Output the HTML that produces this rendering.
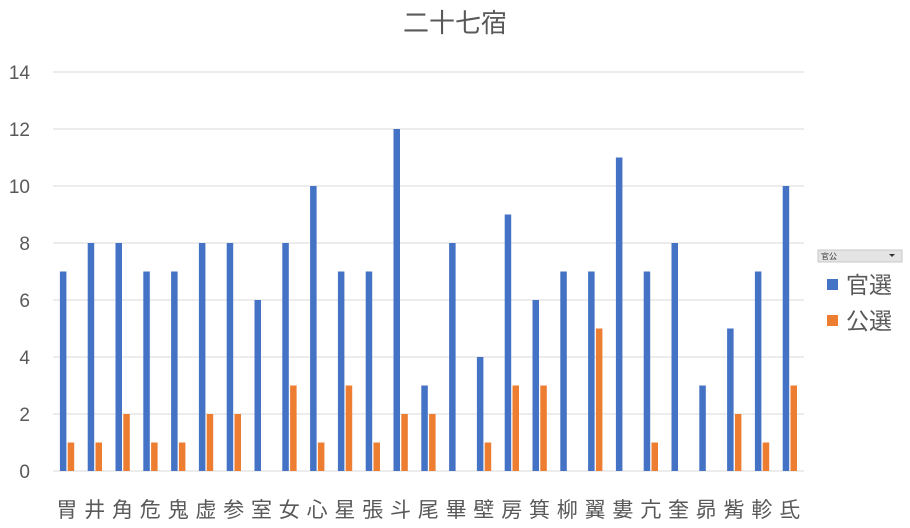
<!DOCTYPE html>
<html><head><meta charset="utf-8"><style>body{margin:0;background:#fff}svg{display:block}text{font-family:"Liberation Sans","Noto Sans CJK JP",sans-serif}</style></head><body>
<svg width="910" height="528" xmlns="http://www.w3.org/2000/svg" id="s">
<rect width="910" height="528" fill="#fff"/>
<text x="455" y="32" font-size="26" fill="#595959" text-anchor="middle">二十七宿</text>
<g id="grid" stroke="#d9d9d9" stroke-width="1"></g>
<g id="ylab" font-size="19" fill="#595959" text-anchor="end"></g>
<g id="bars"></g>
<g id="xlab" font-size="21" fill="#595959" text-anchor="middle"></g>
<rect x="818" y="250" width="84" height="12" fill="#e4e4e4" stroke="#c8c8c8"/>
<text x="821" y="259" font-size="8" fill="#333">官公</text>
<path d="M889 254 l6 0 l-3 3z" fill="#333"/>
<rect x="827" y="279" width="11" height="11" fill="#4472c4"/>
<text x="846" y="293" font-size="23" fill="#595959">官選</text>
<rect x="827" y="315" width="11" height="11" fill="#ed7d31"/>
<text x="846" y="329" font-size="23" fill="#595959">公選</text>
</svg>
<script>
const ns="http://www.w3.org/2000/svg";
const L="胃井角危鬼虚参室女心星張斗尾畢壁房箕柳翼婁亢奎昴觜軫氐".split("");
const B=[7,8,8,7,7,8,8,6,8,10,7,7,12,3,8,4,9,6,7,7,11,7,8,3,5,7,10];
const O=[1,1,2,1,1,2,2,0,3,1,3,1,2,2,0,1,3,3,0,5,0,1,0,0,2,1,3];
const y0=471,u=28.5,x0=53,p=27.8;
function el(g,t,a,tx){const e=document.createElementNS(ns,t);for(const k in a)e.setAttribute(k,a[k]);if(tx!==undefined)e.textContent=tx;document.getElementById(g).appendChild(e);}
for(let v=0;v<=14;v+=2){const y=y0-v*u;el("grid","line",{x1:x0,x2:804,y1:y,y2:y});el("ylab","text",{x:30,y:y+7},v);}
L.forEach((c,i)=>{const cx=x0+p*(i+0.5);
if(B[i])el("bars","rect",{x:cx-7,y:y0-B[i]*u,width:6.5,height:B[i]*u,fill:"#4472c4"});
if(O[i])el("bars","rect",{x:cx+0.8,y:y0-O[i]*u,width:6.5,height:O[i]*u,fill:"#ed7d31"});
el("xlab","text",{x:cx,y:517},c);});
</script>
</body></html>
